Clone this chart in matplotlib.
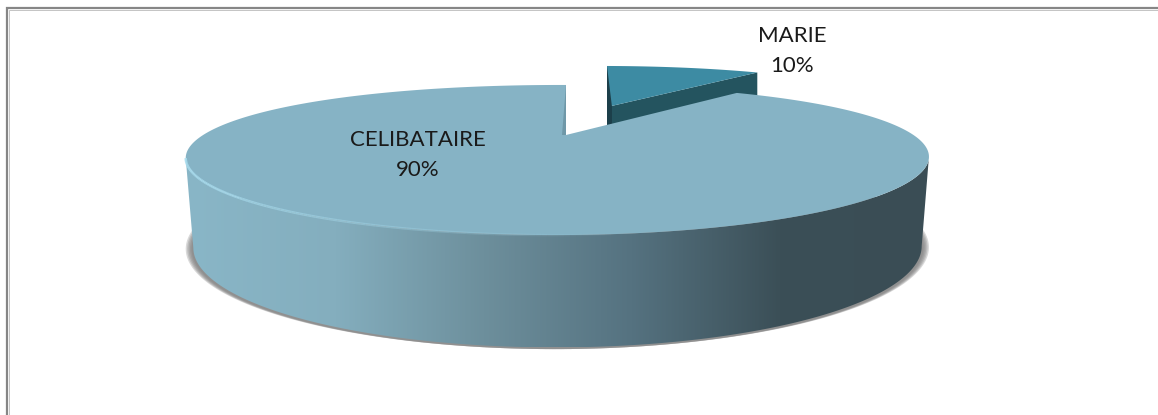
import numpy as np
import matplotlib
matplotlib.use('Agg')
import matplotlib.pyplot as plt
from matplotlib.collections import LineCollection
from matplotlib.colors import LinearSegmentedColormap
from matplotlib.patches import Polygon

# Donnees du graphique
categories = ['MARIE', 'CELIBATAIRE']
valeurs = [10, 90]

# Couleurs
bleu_marie = '#3d8ba3'
bleu_marie_cote = '#24545f'
bleu_marie_sombre = '#1c3f4a'
bleu_celib = '#86b3c5'
degrade = ['#89b6c7', '#84aebe', '#6d8f9c', '#557280', '#3b4f57', '#3a4d55']

L, H = 1158, 415
fig = plt.figure(figsize=(L / 100, H / 100), dpi=100)
ax = fig.add_axes([0, 0, 1, 1])
ax.set_xlim(0, L)
ax.set_ylim(H, 0)
ax.axis('off')

# Cadre, ouvert a droite et en bas comme sur l'image
ax.plot([7, 7, L], [H, 8, 8], color='#868686', lw=1.6, solid_joinstyle='miter', zorder=1)
ax.plot([9, 9, L], [H, 10, 10], color='#c4c4c4', lw=0.7, solid_joinstyle='miter', zorder=1)


# Projection en perspective du disque, angle en degres depuis le haut, sens horaire
def projete(angle, cx, cy, sx=1.0, sy=1.0):
    t = np.radians(angle)
    u, v = np.sin(t), np.cos(t)
    w = 1 + v / 3 + 0.0217 * u
    return cx + sx * (355 * u / w + 17 * u * v), cy - 66.7 * sy * v / w


fin_marie = 360 * valeurs[0] / sum(valeurs)
angles_celib = np.linspace(fin_marie, 360, 500)
xc, yc = projete(angles_celib, 566, 135)

# Ombre sous le disque
a_tour = np.linspace(0, 360, 400)
for i, extra in enumerate(np.linspace(0.985, 1.0, 5)):
    xo, yo = projete(a_tour, 566, 219, sx=extra, sy=1.30)
    ax.add_patch(Polygon(np.c_[xo, yo], closed=True, fc='#777777', ec='none', alpha=0.28, zorder=6 - i))

# Paroi laterale avec degrade
xb, yb = projete(angles_celib, 566, 218, sx=0.98, sy=1.293)
i_droite = np.argmax(xc)
i_gauche = np.argmin(xc)
j_droite = np.argmax(xb)
j_gauche = np.argmin(xb)
paroi = np.r_[np.c_[xc[i_droite:i_gauche + 1], yc[i_droite:i_gauche + 1]],
              np.c_[xb[j_droite:j_gauche + 1][::-1], yb[j_droite:j_gauche + 1][::-1]]]
patch_paroi = Polygon(paroi, closed=True, fc='none', ec='none', zorder=7)
ax.add_patch(patch_paroi)
cmap = LinearSegmentedColormap.from_list('paroi', degrade)
img = ax.imshow(np.linspace(0, 1, 256)[None, :], cmap=cmap, aspect='auto',
                extent=[xc.min(), xc.max(), yb.max(), yc.min()], zorder=7)
img.set_clip_path(patch_paroi)
ax.set_xlim(0, L)
ax.set_ylim(H, 0)

# Part MARIE, detachee du disque
xm0, ym0 = 607, 107
a_marie = np.linspace(0, fin_marie, 80)
xm, ym = projete(a_marie, xm0, ym0, sx=0.88, sy=0.82)
ax.add_patch(Polygon([(xm0, ym0), (xm[-1], ym[-1]), (xm[-1], ym[-1] + 60), (xm0, ym0 + 60)],
                     closed=True, fc=bleu_marie_cote, ec='none', zorder=8))
ax.add_patch(Polygon(np.r_[[(xm0, ym0)], np.c_[xm, ym]], closed=True, fc=bleu_marie, ec='none', zorder=9))
ax.add_patch(Polygon([(xm[0], ym[0]), (xm0 + 5, ym0), (xm0 + 5, ym0 + 22), (xm0, ym0 + 22)],
                     closed=True, fc=bleu_marie_sombre, ec='none', zorder=10))

# Dessus de la part CELIBATAIRE
ax.add_patch(Polygon(np.r_[[(566, 135)], np.c_[xc, yc]], closed=True, fc=bleu_celib, ec='none', zorder=11))
ax.add_patch(Polygon([(xc[-1], yc[-1]), (566, 135), (562, 135)], closed=True, fc='#6f98a8', ec='none', zorder=12))

# Liseres du bord avant : clair a gauche
pts = np.c_[xc[i_droite:i_gauche + 1], yc[i_droite:i_gauche + 1]]
segs = np.stack([pts[:-1], pts[1:]], axis=1)
pos = np.linspace(0, 1, len(segs))
alpha_clair = np.clip((pos - 0.45) / 0.55, 0, 1)
couleurs = np.zeros((len(segs), 4))
couleurs[:, :3] = matplotlib.colors.to_rgb('#a8dcee')
couleurs[:, 3] = alpha_clair
ax.add_collection(LineCollection(segs, colors=couleurs, linewidths=1.8, zorder=13))

# Etiquettes
police = ['Lato', 'DejaVu Sans']
pcts = [f'{round(100 * v / sum(valeurs))}%' for v in valeurs]
ax.text(792, 51, f'{categories[0]}\n{pcts[0]}', ha='center', va='center', fontsize=16,
        family=police, color='#1a1a1a', linespacing=1.66, zorder=20)
ax.text(418, 155, f'{categories[1]}\n{pcts[1]}', ha='center', va='center', fontsize=16,
        family=police, color='#1a1a1a', linespacing=1.66, zorder=20)

fig.savefig('out.png', dpi=100, facecolor='white')
